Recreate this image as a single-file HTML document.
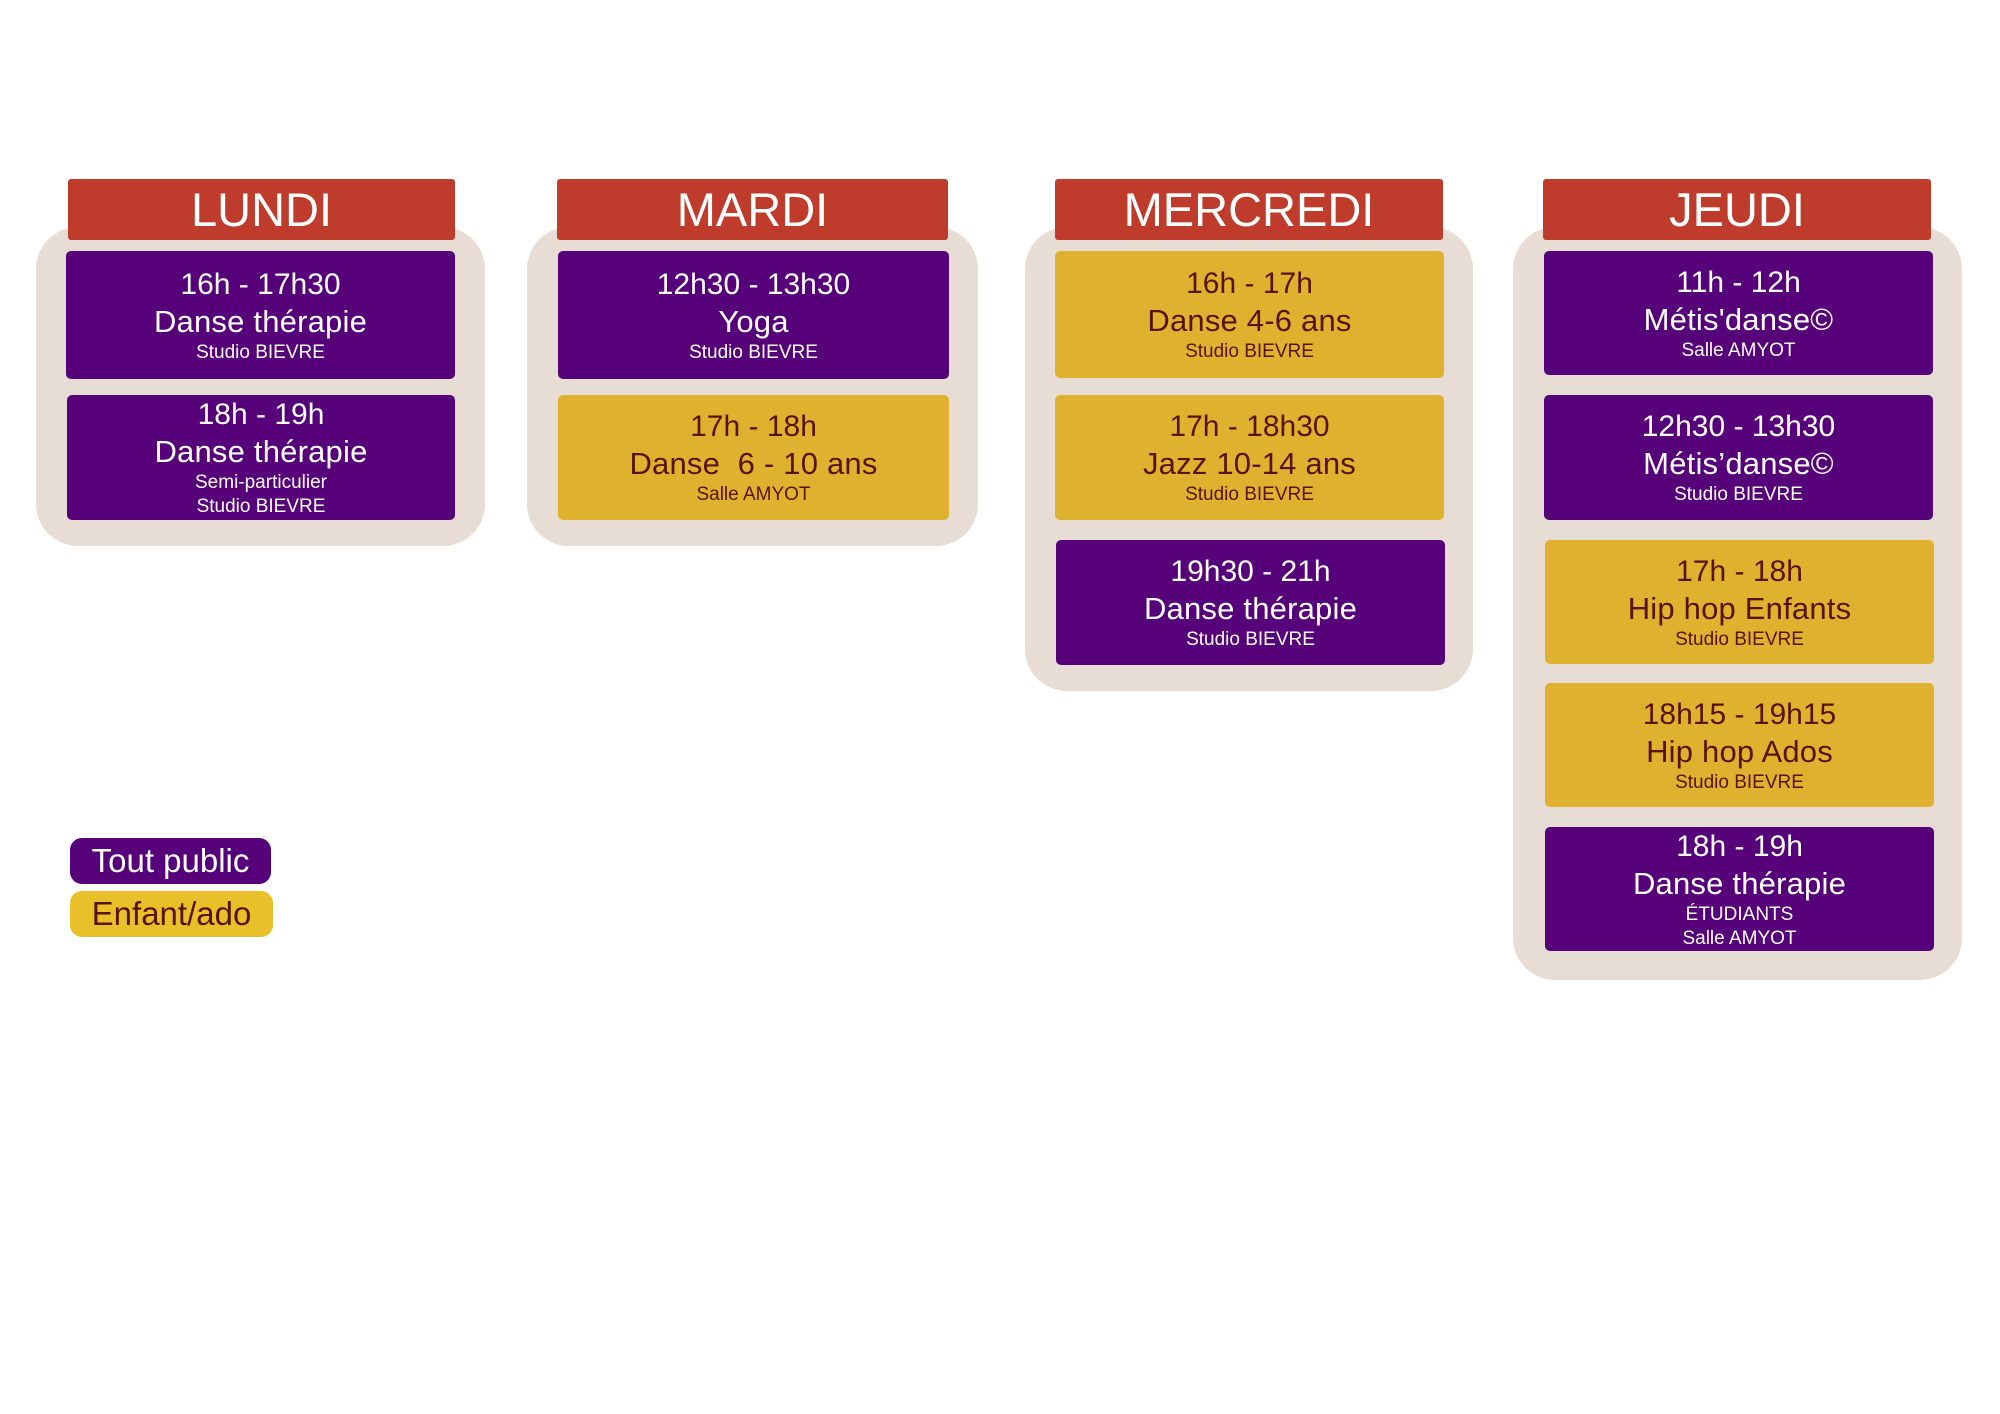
<!DOCTYPE html>
<html><head><meta charset="utf-8"><style>
body{margin:0;width:2000px;height:1414px;background:#fff;position:relative;overflow:hidden;font-family:"Liberation Sans",sans-serif}
.bg{position:absolute;background:#e8ddd5;border-radius:42px}
.hd{position:absolute;background:#bf3b2c;color:#fff;font-size:47px;text-align:center;line-height:61px;height:61px;border-radius:3px}
.c{position:absolute;border-radius:5px;display:flex;flex-direction:column;align-items:center;justify-content:center;text-align:center}
.p{background:#560079;color:#fff}
.y{background:#deb22e;color:#5a1200}
.t{font-size:30px;line-height:37px}
.n{font-size:31px;line-height:38px;letter-spacing:0.2px}
.s{font-size:19px;line-height:24px}
.lg{position:absolute;border-radius:12px;font-size:33px;line-height:46px;text-align:center}
</style></head><body>
<div class="bg" style="left:36px;top:227px;width:449px;height:319px"></div>
<div class="bg" style="left:527px;top:227px;width:451px;height:319px"></div>
<div class="bg" style="left:1025px;top:227px;width:448px;height:464px"></div>
<div class="bg" style="left:1513px;top:227px;width:449px;height:753px"></div>

<div class="hd" style="left:68px;top:179px;width:387px">LUNDI</div>
<div class="hd" style="left:557px;top:179px;width:391px">MARDI</div>
<div class="hd" style="left:1055px;top:179px;width:388px">MERCREDI</div>
<div class="hd" style="left:1543px;top:179px;width:388px">JEUDI</div>

<div class="c p" style="left:66px;top:251px;width:389px;height:128px"><div class="t">16h - 17h30</div><div class="n">Danse thérapie</div><div class="s">Studio BIEVRE</div></div>
<div class="c p" style="left:67px;top:395px;width:388px;height:125px"><div class="t">18h - 19h</div><div class="n">Danse thérapie</div><div class="s">Semi-particulier</div><div class="s">Studio BIEVRE</div></div>

<div class="c p" style="left:558px;top:251px;width:391px;height:128px"><div class="t">12h30 - 13h30</div><div class="n">Yoga</div><div class="s">Studio BIEVRE</div></div>
<div class="c y" style="left:558px;top:395px;width:391px;height:125px"><div class="t">17h - 18h</div><div class="n">Danse &nbsp;6 - 10 ans</div><div class="s">Salle AMYOT</div></div>

<div class="c y" style="left:1055px;top:251px;width:389px;height:127px"><div class="t">16h - 17h</div><div class="n">Danse 4-6 ans</div><div class="s">Studio BIEVRE</div></div>
<div class="c y" style="left:1055px;top:395px;width:389px;height:125px"><div class="t">17h - 18h30</div><div class="n">Jazz 10-14 ans</div><div class="s">Studio BIEVRE</div></div>
<div class="c p" style="left:1056px;top:540px;width:389px;height:125px"><div class="t">19h30 - 21h</div><div class="n">Danse thérapie</div><div class="s">Studio BIEVRE</div></div>

<div class="c p" style="left:1544px;top:251px;width:389px;height:124px"><div class="t">11h - 12h</div><div class="n">Métis'danse©</div><div class="s">Salle AMYOT</div></div>
<div class="c p" style="left:1544px;top:395px;width:389px;height:125px"><div class="t">12h30 - 13h30</div><div class="n">Métis’danse©</div><div class="s">Studio BIEVRE</div></div>
<div class="c y" style="left:1545px;top:540px;width:389px;height:124px"><div class="t">17h - 18h</div><div class="n">Hip hop Enfants</div><div class="s">Studio BIEVRE</div></div>
<div class="c y" style="left:1545px;top:683px;width:389px;height:124px"><div class="t">18h15 - 19h15</div><div class="n">Hip hop Ados</div><div class="s">Studio BIEVRE</div></div>
<div class="c p" style="left:1545px;top:827px;width:389px;height:124px"><div class="t">18h - 19h</div><div class="n">Danse thérapie</div><div class="s">ÉTUDIANTS</div><div class="s">Salle AMYOT</div></div>

<div class="lg" style="left:70px;top:838px;width:201px;height:46px;background:#560079;color:#fff">Tout public</div>
<div class="lg" style="left:70px;top:891px;width:203px;height:46px;background:#e8c12a;color:#5a1200">Enfant/ado</div>
</body></html>
